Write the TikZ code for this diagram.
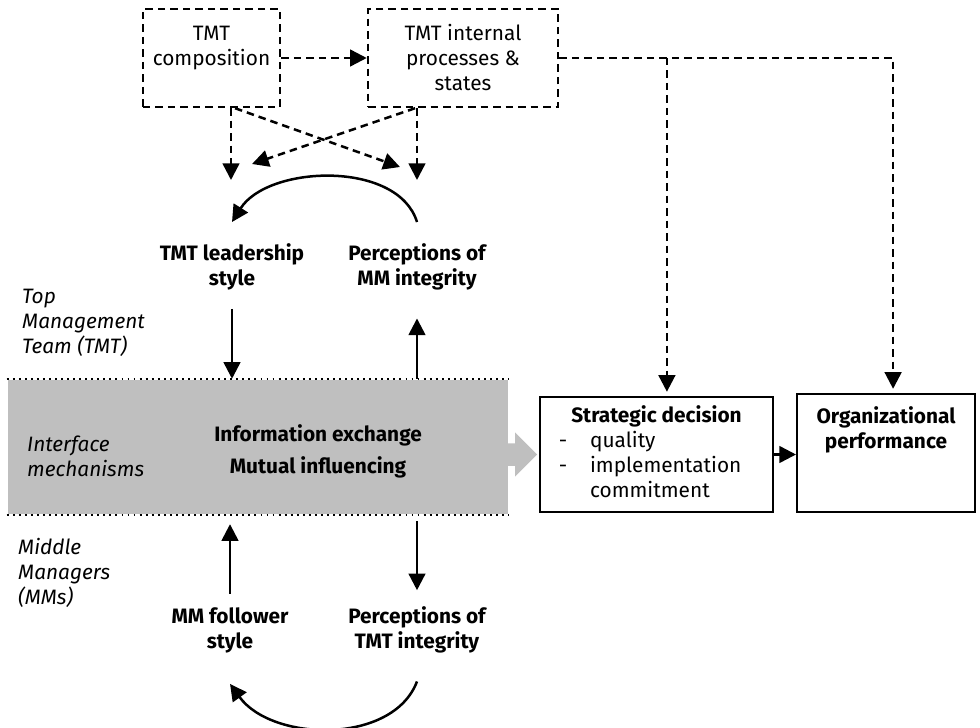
\documentclass[tikz,border=0pt]{standalone}
\usepackage{fontspec}
\setmainfont{Fira Sans}
\usepackage{tikz}
\usetikzlibrary{arrows.meta,positioning,shapes.arrows}

\begin{document}
\begin{tikzpicture}[x=0.48pt, y=-0.48pt, line width=1.2pt, >={Triangle[length=8pt,width=8pt]},
    dline/.style={dashed, dash pattern=on 3.6pt off 2.4pt, line width=1.2pt},
    dbox/.style={draw, dline, align=center, inner sep=0pt},
    sbox/.style={draw, line width=1pt, align=center, inner sep=0pt},
    lbl/.style={align=center, font=\bfseries},
    side/.style={anchor=west, align=left, font=\itshape},
    garrow/.style={single arrow, fill=gray!50, draw=none, minimum width=0pt, minimum height=15.4pt,
        inner xsep=0pt, inner ysep=4.8pt, single arrow head extend=5.2pt}]
    \useasboundingbox (0,0) rectangle (980,728);

    \node[fill=gray!50, minimum width=240pt, minimum height=64.3pt, inner sep=0pt] (iface) at (258,447) {};
    \draw[dotted, line width=0.9pt] (iface.north west) -- (iface.north east);
    \draw[dotted, line width=0.9pt] (iface.south west) -- (iface.south east);

    \node[dbox, minimum width=65.8pt, minimum height=47pt] (comp) at (211.5,58) {TMT\\composition\\\mbox{}};
    \node[dbox, minimum width=91.2pt, minimum height=47pt] (int) at (463,58) {TMT internal\\processes \&\\states};

    \node[lbl] (lead) at (232,267) {TMT leadership\\style};
    \node[lbl] (pmm) at (417,267) {Perceptions of\\MM integrity};
    \node[lbl] (info) at (318,435) {Information exchange};
    \node[lbl] (mutual) at (318,467) {Mutual influencing};
    \node[lbl] (foll) at (230,630) {MM follower\\style};
    \node[lbl] (ptmt) at (417,630) {Perceptions of\\TMT integrity};

    \node[side] (top) at (14,323) {Top\\Management\\Team (TMT)};
    \node[side] (ifl) at (19,456) {Interface\\mechanisms};
    \node[side] (mid) at (10,573) {Middle\\Managers\\(MMs)};

    \node[sbox, minimum width=111.8pt, minimum height=55.2pt] (sd) at (656.5,454.5) {%
        \begin{tabular}{@{}p{15pt}@{}l@{}}
            \multicolumn{2}{c}{\textbf{Strategic decision}}\\
            - & quality\\
            - & implementation\\
              & commitment
        \end{tabular}};
    \node[sbox, font=\bfseries, minimum width=85.4pt, minimum height=56.6pt] (perf) at (886,453)
        {Organizational\\performance\\\mbox{}\\\mbox{}};
    \node[garrow, anchor=tip] (push) at (sd.west) {};

    \coordinate (c1) at (231,180);
    \coordinate (c2) at (400,167);
    \coordinate (c3) at (252,164);
    \coordinate (c4) at (417,180);
    \coordinate (j1) at ([xshift=5pt]sd.north);
    \coordinate (j2) at ([xshift=3.4pt]perf.north);

    \draw[dline,->] (comp) -- (int);
    \draw[dline,->] (comp.south -| c1) -- (c1);
    \draw[dline,->] ([xshift=11.3pt]comp.south) -- (c2);
    \draw[dline,->] (int.south -| c4) -- (c4);
    \draw[dline,->] ([xshift=-23pt]int.south) -- (c3);
    \draw[dline,->,shorten >=2pt] (int.east) -| (j2);
    \draw[dline,->,shorten >=2pt] (int.east -| j1) -- (j1);

    \draw[->] ([yshift=6.5pt]pmm.north) .. controls (398,160) and (268,165) .. ([yshift=6.5pt]lead.north);
    \draw[->, shorten <=5pt] (lead.south) -- (lead.south |- iface.north);
    \draw[->, shorten >=9.6pt] (pmm.south |- iface.north) -- (pmm.south);
    \draw[->, shorten <=2.5pt, shorten >=4.3pt] (foll.north) -- (foll.north |- iface.south);
    \draw[->, shorten <=3pt, shorten >=4pt] (ptmt.north |- iface.south) -- (ptmt.north);
    \draw[->] ([yshift=-9.6pt]ptmt.south) .. controls (393,745) and (272,742) .. ([yshift=-11pt]foll.south);

    \draw[->] (sd.east) -- (sd.east -| perf.west);
\end{tikzpicture}
\end{document}
